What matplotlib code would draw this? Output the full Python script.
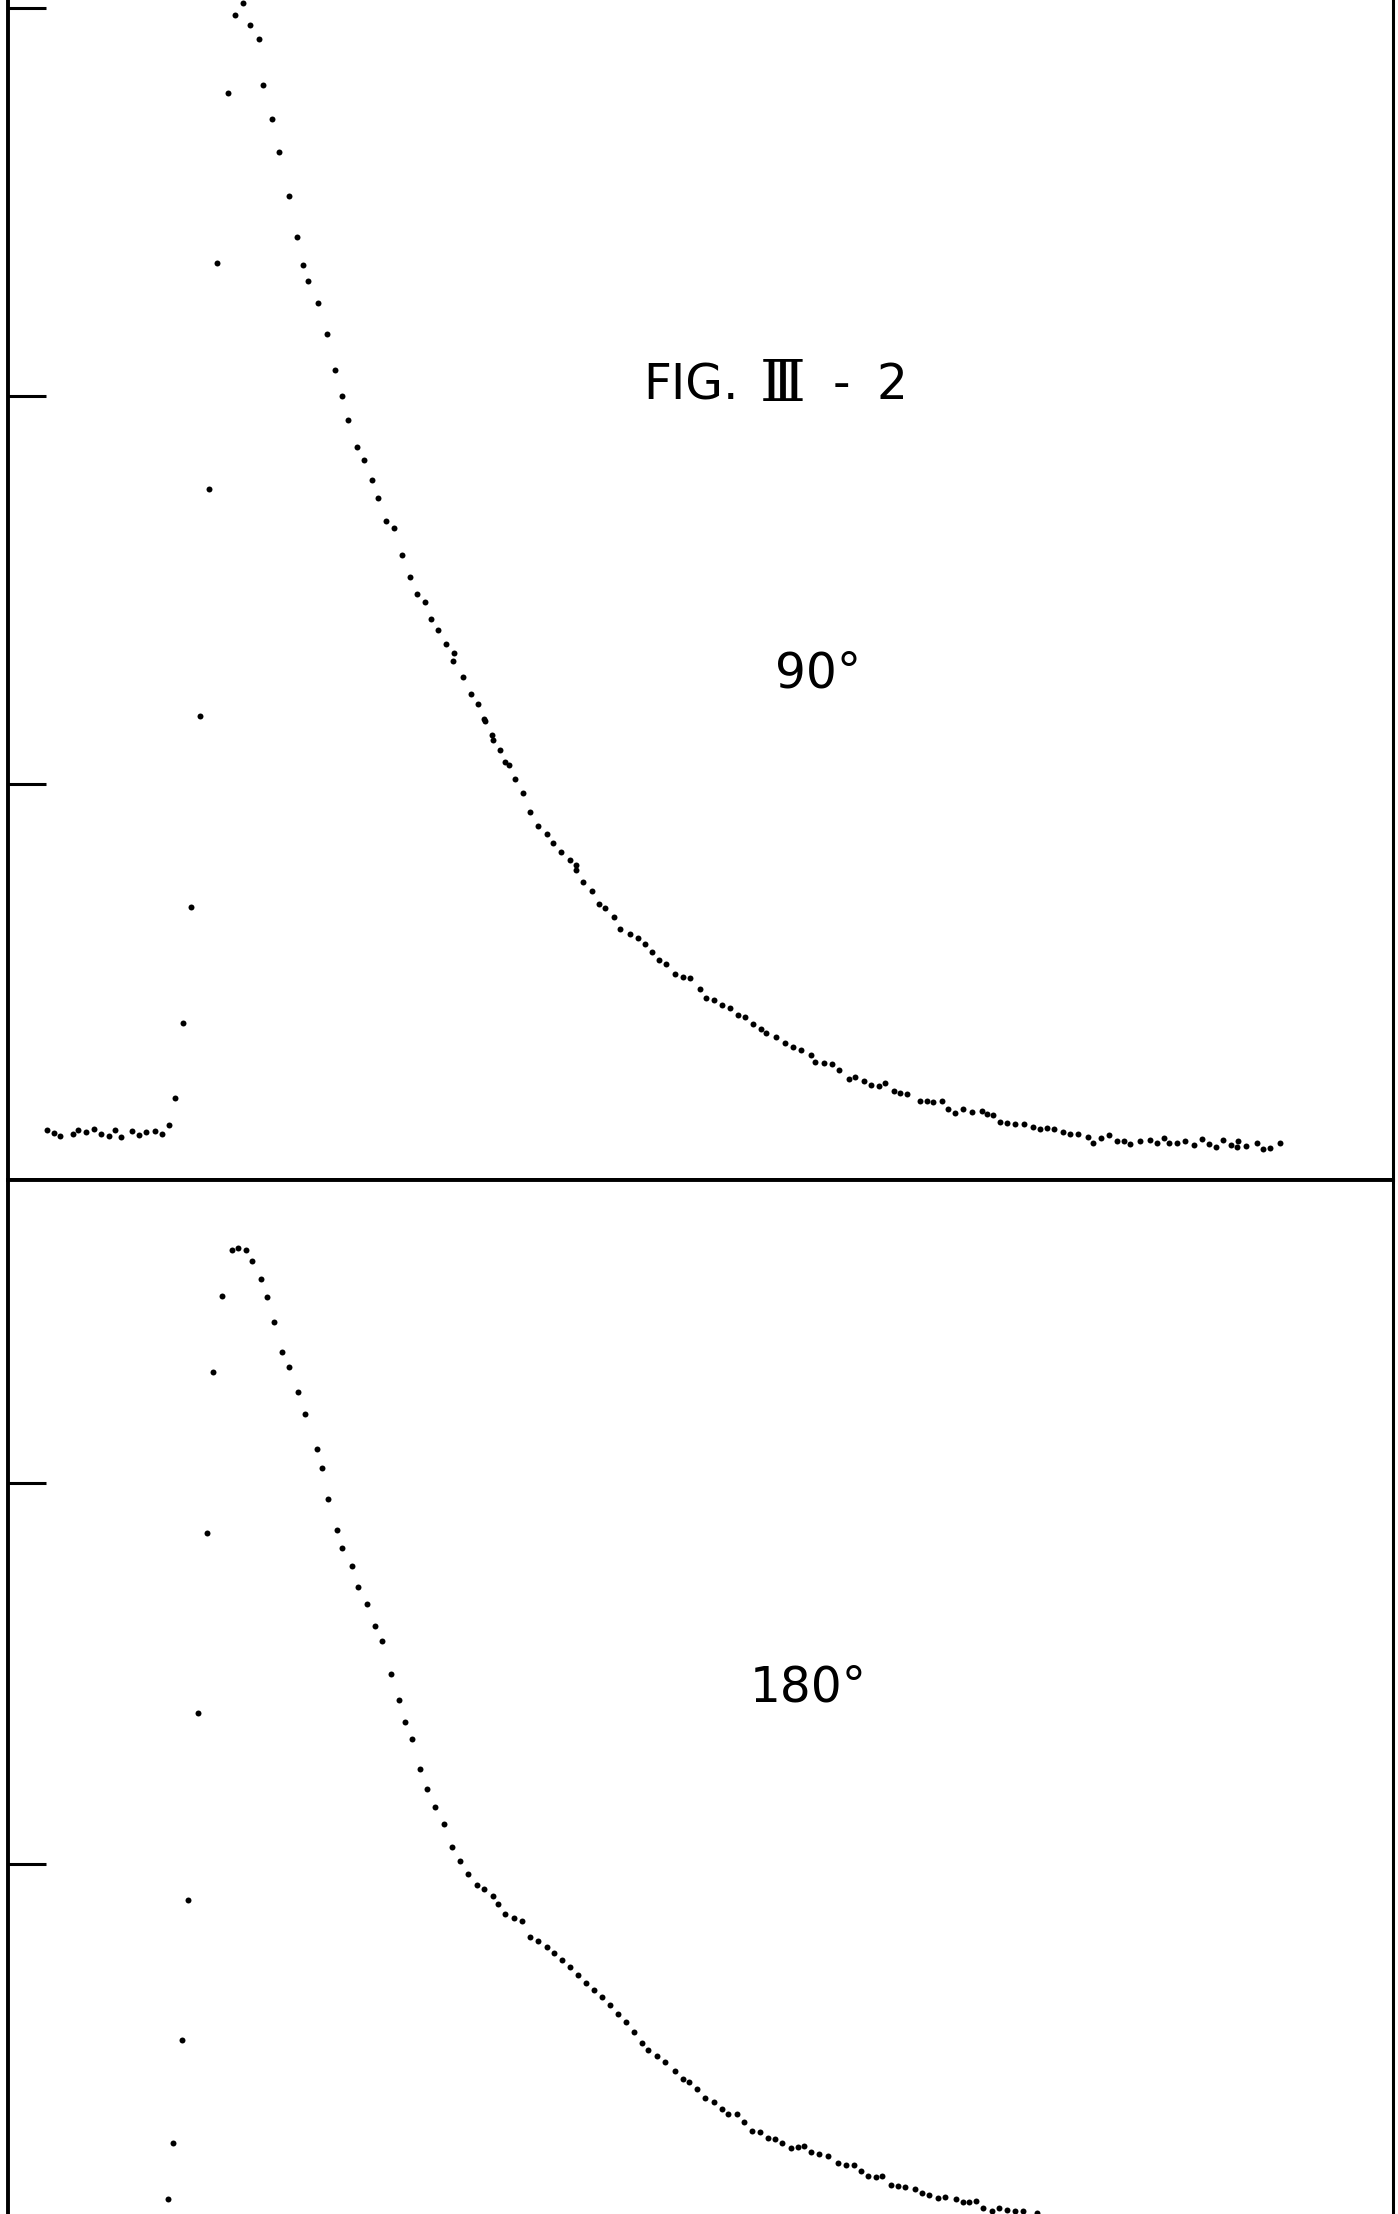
import numpy as np
import matplotlib
matplotlib.use("Agg")
import matplotlib.pyplot as plt

# Data (channel, counts in arbitrary units)
# upper panel : 90 degrees
top_ch = [3.9, 4.6, 5.2, 6.5, 7.0, 7.8, 8.6, 9.3, 10.1, 10.7,
          11.3, 12.4, 13.1, 13.8, 14.7, 15.4, 16.1, 16.7, 17.5, 18.3,
          19.2, 20.1, 20.9, 22.0, 22.7, 23.5, 24.2, 25.1, 25.5, 26.4,
          27.1, 28.1, 28.9, 29.5, 30.0, 31.0, 31.9, 32.7, 33.4, 34.0,
          34.9, 35.6, 36.4, 37.0, 37.8, 38.6, 39.4, 40.2, 40.9, 41.7,
          42.3, 43.0, 43.8, 44.6, 44.5, 45.5, 46.3, 47.0, 47.6, 47.7,
          48.4, 48.5, 49.2, 49.7, 50.1, 50.7, 51.5, 52.2, 53.0, 53.9,
          54.5, 55.3, 56.2, 56.8, 56.8, 57.5, 58.4, 59.1, 59.7, 60.6,
          61.2, 62.2, 63.0, 63.7, 64.4, 65.1, 65.8, 66.7, 67.5, 68.2,
          69.2, 69.8, 70.6, 71.4, 72.2, 73.0, 73.7, 74.5, 75.3, 75.8,
          76.8, 77.7, 78.5, 79.3, 80.3, 80.7, 81.6, 82.4, 83.1, 84.1,
          84.7, 85.6, 86.3, 87.1, 87.7, 88.6, 89.2, 89.9, 91.2, 91.9,
          92.5, 93.4, 94.0, 94.7, 95.5, 96.4, 97.4, 97.9, 98.5, 99.2,
          99.9, 100.7, 101.6, 102.5, 103.2, 103.9, 104.6, 105.5, 106.2, 107.0,
          108.0, 108.5, 109.3, 110.1, 110.9, 111.6, 112.2, 113.2, 114.2, 114.9,
          115.6, 116.1, 116.9, 117.7, 118.6, 119.4, 120.1, 120.8, 121.5, 122.3,
          122.9, 123.0, 123.8, 124.9, 125.5, 126.2, 127.2]
top_counts = [42, 39, 36, 38, 42, 40, 43, 38, 36, 42,
              35, 41, 37, 40, 41, 38, 47, 74, 149, 265,
              456, 683, 909, 1079, 1157, 1169, 1147, 1133, 1087, 1053,
              1020, 976, 935, 907, 891, 869, 838, 802, 776, 752,
              725, 712, 692, 674, 651, 644, 617, 595, 578, 570,
              553, 542, 528, 519, 511, 495, 478, 468, 453, 451,
              437, 432, 422, 410, 407, 393, 379, 360, 346, 338,
              329, 320, 312, 307, 302, 290, 281, 268, 264, 255,
              243, 238, 234, 228, 220, 212, 208, 198, 195, 194,
              183, 174, 172, 167, 164, 157, 155, 148, 143, 139,
              135, 129, 125, 122, 117, 110, 109, 108, 102, 93,
              95, 91, 87, 86, 89, 81, 79, 78, 71, 71,
              70, 71, 63, 59, 63, 60, 61, 58, 57, 50,
              49, 48, 48, 45, 43, 44, 43, 40, 38, 38,
              35, 29, 34, 37, 31, 31, 28, 31, 32, 29,
              34, 29, 29, 31, 27, 33, 28, 25, 32, 27,
              25, 31, 26, 29, 23, 24, 29]

# lower panel : 180 degrees
bot_ch = [16.0, 16.5, 17.4, 18.0, 19.0, 19.9, 20.5, 21.4, 22.4, 23.0,
          23.8, 24.4, 25.3, 25.9, 26.6, 27.4, 28.1, 29.0, 29.7, 30.9,
          31.4, 32.0, 32.9, 33.4, 34.4, 35.0, 35.9, 36.7, 37.4, 38.3,
          39.1, 39.7, 40.4, 41.2, 41.9, 42.7, 43.6, 44.4, 45.2, 46.0,
          46.9, 47.6, 48.5, 49.0, 49.7, 50.6, 51.4, 52.2, 53.0, 53.9,
          54.6, 55.4, 56.2, 57.0, 57.8, 58.6, 59.4, 60.2, 61.0, 61.8, 62.6,
          63.4, 64.0, 64.9, 65.7, 66.7, 67.5, 68.1, 68.9, 69.7, 70.6,
          71.4, 72.0, 72.9, 73.6, 74.4, 75.2, 76.0, 76.7, 77.4, 78.3,
          79.0, 79.6, 80.3, 81.1, 82.0, 83.0, 83.8, 84.6, 85.3, 86.0,
          86.8, 87.4, 88.3, 89.0, 89.7, 90.7, 91.4, 92.1, 93.0, 93.7,
          94.8, 95.5, 96.1, 96.8, 97.5, 98.4, 99.1, 99.9, 100.7, 101.5,
          102.9]
bot_counts = [46, 102, 205, 345, 532, 712, 873, 949, 995, 997,
              995, 984, 966, 948, 923, 893, 878, 853, 831, 796,
              777, 746, 715, 697, 679, 658, 641, 619, 604, 571,
              545, 523, 506, 476, 456, 438, 421, 398, 384, 371,
              360, 356, 349, 341, 331, 327, 324, 308, 304, 298,
              292, 285, 278, 270, 262, 255, 248, 240, 231, 223, 213,
              202, 195, 189, 183, 174, 166, 163, 156, 147, 143,
              136, 131, 131, 123, 114, 113, 107, 106, 102, 97,
              98, 99, 93, 91, 89, 82, 80, 80, 74, 69,
              68, 69, 60, 59, 58, 56, 52, 50, 47, 48,
              46, 43, 43, 44, 37, 34, 37, 35, 34, 34,
              32]

top_label = "90°"
bot_label = "180°"

W, H = 1398, 2214
fig = plt.figure(figsize=(W / 100, H / 100), dpi=100)
fig.patch.set_facecolor("white")

# the scan is cropped: top of upper frame and bottom of lower frame are cut off
ax1 = fig.add_axes([8 / W, (H - 1180) / H, 1385 / W, 1180 / H])
ax2 = fig.add_axes([8 / W, 0, 1385 / W, 1034 / H])

dot = dict(linestyle="none", marker="o", markersize=4.3, color="black",
           markeredgewidth=0)
ax1.plot(top_ch, top_counts, **dot)
ax2.plot(bot_ch, bot_counts, **dot)

ax1.set_xlim(0, 138.5)
ax1.set_ylim(-8, 1172)
ax1.set_yticks([388, 776, 1164])
ax2.set_xlim(0, 138.5)
ax2.set_ylim(31, 1065)
ax2.set_yticks([381, 762])

for ax in (ax1, ax2):
    ax.set_xticks([])
    ax.set_yticklabels([])
    ax.tick_params(axis="y", direction="in", length=27, width=2.2,
                   color="black")
    for s in ax.spines.values():
        s.set_linewidth(2.8)
        s.set_color("black")
ax1.spines["top"].set_visible(False)
ax2.spines["bottom"].set_visible(False)
ax1.spines["right"].set_linewidth(2.2)
ax2.spines["right"].set_linewidth(2.2)

# title "FIG. III - 2" (roman numeral drawn with bars, serif face)
txt = dict(va="center", fontsize=35, color="black", family=["DejaVu Sans"])
ax1.text(63.5, 787, "FIG.", ha="left", **txt)
ax1.text(77.5, 787, "Ⅲ", ha="center", va="center", fontsize=42,
         color="black", family=["DejaVu Serif", "DejaVu Sans"])
ax1.text(83.3, 787, "-", ha="center", **txt)
ax1.text(88.4, 787, "2", ha="center", **txt)

ax1.text(81.0, 499, top_label, ha="center", **txt)
ax2.text(80.0, 557, bot_label, ha="center", **txt)

fig.savefig("out.png", dpi=100, facecolor="white")
